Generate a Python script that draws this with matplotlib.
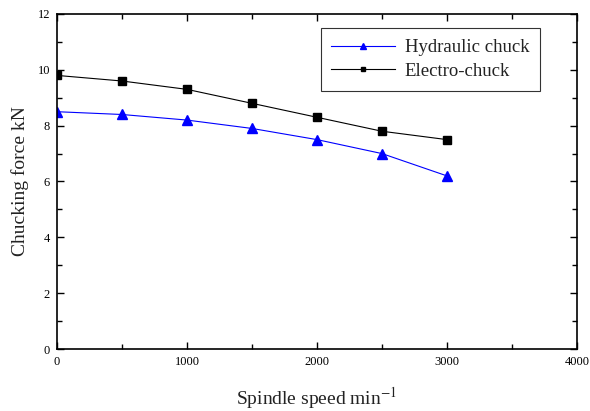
import matplotlib
matplotlib.use("Agg")
import matplotlib.pyplot as plt
from matplotlib.ticker import MultipleLocator

speed = [0, 500, 1000, 1500, 2000, 2500, 3000]
hydraulic = [8.5, 8.4, 8.2, 7.9, 7.5, 7.0, 6.2]
electro = [9.8, 9.6, 9.3, 8.8, 8.3, 7.8, 7.5]

plt.rcParams['font.family'] = ['Liberation Serif', 'DejaVu Serif']
plt.rcParams['mathtext.fontset'] = 'stix'

fig = plt.figure(figsize=(5.9, 4.11), dpi=100)
ax = fig.add_axes([57/590, 62/411, 520/590, 335/411])

ax.plot(speed, hydraulic, color='blue', marker='^', markersize=7, linewidth=0.8, label='Hydraulic chuck')
ax.plot(speed, electro, color='black', marker='s', markersize=6, linewidth=0.8, label='Electro-chuck')

ax.set_xlim(0, 4000)
ax.set_ylim(0, 12)
ax.xaxis.set_major_locator(MultipleLocator(1000))
ax.xaxis.set_minor_locator(MultipleLocator(500))
ax.yaxis.set_major_locator(MultipleLocator(2))
ax.yaxis.set_minor_locator(MultipleLocator(1))
ax.tick_params(which='both', direction='in', top=True, right=True, labelsize=9, pad=5)
ax.tick_params(which='major', length=5, width=1)
ax.tick_params(which='minor', length=3.5, width=1)
for s in ax.spines.values():
    s.set_linewidth(1.2)

ax.set_xlabel('Spindle speed min$^{-1}$', fontsize=14, labelpad=12, color='#222222')
ax.set_ylabel('Chucking force kN', fontsize=14, labelpad=6, color='#222222')

leg = ax.legend(loc='upper right', bbox_to_anchor=(0.929, 0.958), fontsize=13.5,
                frameon=True, fancybox=False, edgecolor='black', borderpad=0.58,
                handlelength=3.4, handletextpad=0.5, labelspacing=0.35,
                markerscale=0.6, borderaxespad=0)
leg.get_frame().set_linewidth(0.8)
for t in leg.get_texts():
    t.set_color('#222222')

fig.savefig('out.png', dpi=100)
